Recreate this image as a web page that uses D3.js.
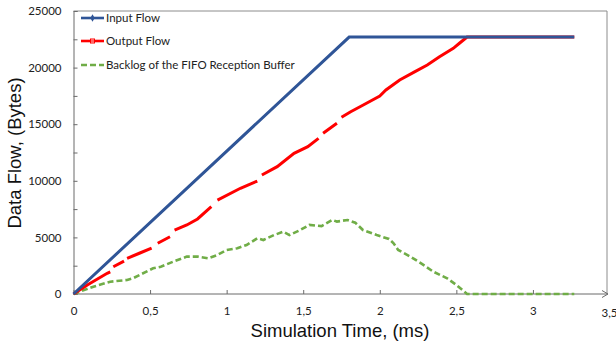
<!DOCTYPE html>
<html><head><meta charset="utf-8">
<script src="https://cdn.jsdelivr.net/npm/d3@7"></script>
<style>
html,body{margin:0;padding:0;background:#fff;}
svg{display:block;}
</style></head>
<body>
<svg id="chart" width="616" height="343"></svg>
<script>
// ---- data ----
const xTicks = [0, 0.5, 1, 1.5, 2, 2.5, 3, 3.5];
const xTickLabels = ["0", "0,5", "1", "1,5", "2", "2,5", "3", "3,5"];
const yTicks = [0, 5000, 10000, 15000, 20000, 25000];
const yMinorTicks = [2500, 7500, 12500, 17500, 22500];

const inputTime = [0, 1.8, 3.27];
const inputFlow = [0, 22700, 22700];

// null marks a break in the output-flow line
const outputTime = [0, 0.09, 0.22, 0.24, null, 0.26, 0.33, null, 0.35, 0.43, 0.51, null,
  0.55, 0.63, null, 0.66, 0.74, 0.81, 0.9, null, 0.94, 1.09, 1.2, null,
  1.23, 1.33, 1.44, 1.53, 1.6, null, 1.63, 1.72, null, 1.75, 1.81, 1.88, 2.0, 2.04,
  2.13, 2.23, 2.31, 2.39, 2.48, 2.52, 2.57, 3.27];
const outputFlow = [0, 800, 1830, 1950, null, 2410, 2900, null, 3150, 3600, 4060, null,
  4480, 5060, null, 5650, 6100, 6630, 7710, null, 8300, 9340, 9980, null,
  10510, 11250, 12430, 13010, 13750, null, 14200, 15080, null, 15610, 16100, 16610, 17490, 18020,
  18900, 19640, 20230, 20960, 21700, 22150, 22700, 22700];

const backlogTime = [0, 0.13, 0.24, 0.35, 0.39, 0.52, 0.57, 0.65, 0.74, 0.81, 0.88, 0.94, 1.0,
  1.07, 1.13, 1.2, 1.24, 1.31, 1.37, 1.41, 1.48, 1.54, 1.62, 1.69, 1.72, 1.79, 1.84, 1.89,
  1.98, 2.06, 2.09, 2.12, 2.2, 2.27, 2.35, 2.44, 2.5, 2.57, 3.27];
const backlogFlow = [0, 645, 1090, 1240, 1400, 2270, 2410, 2850, 3300, 3300, 3150, 3450, 3890,
  4040, 4330, 4920, 4770, 5210, 5500, 5210, 5650, 6100, 6000, 6540, 6400, 6540, 6300, 5650,
  5210, 4860, 4480, 3890, 3300, 2710, 1970, 1390, 800, 0, 0];

const seriesNames = ["Input Flow", "Output Flow", "Backlog of the FIFO Reception Buffer"];
const seriesColors = ["#2F5597", "#FF0000", "#70AD47"];

// ---- layout ----
const L = 73.5, R = 609.5, T = 11, B = 294, boxRight = 607;
const svg = d3.select("#chart");
const x = d3.scaleLinear().domain([0, 3.5]).range([L, R]);
const y = d3.scaleLinear().domain([0, 25000]).range([B, T]);

// plot box (top & right)
svg.append("path")
  .attr("d", `M${L},${T}H${boxRight}V${B}`)
  .attr("fill", "none").attr("stroke", "#8c8c8c").attr("stroke-width", 1);

// y axis
const yAxis = d3.axisLeft(y).tickValues(yTicks).tickSize(-4).tickPadding(12)
  .tickFormat(d3.format("d"));
const gy = svg.append("g").attr("transform", `translate(${L},0)`).call(yAxis);
gy.select(".domain").attr("stroke", "#6b6b6b");
gy.selectAll(".tick line").attr("stroke", "#6b6b6b");
gy.selectAll("text").attr("font-family", "Lato, sans-serif").attr("font-size", 11.5).attr("fill", "#222");
const gyMinor = svg.append("g").attr("transform", `translate(${L},0)`)
  .call(d3.axisLeft(y).tickValues(yMinorTicks).tickSize(-4).tickFormat(""));
gyMinor.select(".domain").remove();
gyMinor.selectAll(".tick line").attr("stroke", "#6b6b6b");

// x axis
const xAxis = d3.axisBottom(x).tickValues(xTicks.filter(d => d < 3.5)).tickSize(-4).tickPadding(13)
  .tickFormat((d, i) => xTickLabels[i]);
const gx = svg.append("g").attr("transform", `translate(0,${B})`).call(xAxis);
gx.select(".domain").remove();
gx.selectAll(".tick line").attr("stroke", "#6b6b6b");
gx.selectAll("text").attr("font-family", "Lato, sans-serif").attr("font-size", 11.5).attr("fill", "#222");
svg.append("text").attr("x", x(3.5)).attr("y", B + 23)
  .attr("text-anchor", "middle").attr("font-family", "Lato, sans-serif").attr("font-size", 11.5)
  .attr("fill", "#222").text(xTickLabels[7]);
svg.append("line").attr("x1", L).attr("x2", boxRight + 1).attr("y1", B).attr("y2", B)
  .attr("stroke", "#6b6b6b").attr("stroke-width", 1);
svg.append("path").attr("d", `M${boxRight - 5},${B - 3.5}L${boxRight + 1},${B}L${boxRight - 5},${B + 3.5}`)
  .attr("fill", "none").attr("stroke", "#6b6b6b").attr("stroke-width", 1);

// axis titles
svg.append("text").attr("x", 340).attr("y", 337).attr("text-anchor", "middle")
  .attr("font-family", "'Liberation Sans', Arial, sans-serif").attr("font-size", 18.5).attr("fill", "#111")
  .text("Simulation Time, (ms)");
svg.append("text").attr("transform", "translate(21,153) rotate(-90)").attr("text-anchor", "middle")
  .attr("font-family", "'Liberation Sans', Arial, sans-serif").attr("font-size", 18.5).attr("fill", "#111")
  .text("Data Flow, (Bytes)");

// ---- series ----
const line = d3.line().defined(d => d[0] !== null && d[1] !== null).x(d => x(d[0])).y(d => y(d[1]));
const backlogPts = d3.zip(backlogTime, backlogFlow);
const outputPts = d3.zip(outputTime, outputFlow);
const inputPts = d3.zip(inputTime, inputFlow);

svg.append("path").datum(backlogPts).attr("d", line).attr("fill", "none")
  .attr("stroke", seriesColors[2]).attr("stroke-width", 2.6).attr("stroke-dasharray", "6,3");

svg.append("path").datum(outputPts).attr("d", line).attr("fill", "none")
  .attr("stroke", seriesColors[1]).attr("stroke-width", 3);

svg.append("path").datum(inputPts).attr("d", line).attr("fill", "none")
  .attr("stroke", seriesColors[0]).attr("stroke-width", 3);

// ---- legend ----
const legY = [18, 41, 65];
const lg = svg.append("g");
seriesNames.forEach((name, i) => {
  const ln = lg.append("line").attr("x1", 81).attr("x2", 104).attr("y1", legY[i]).attr("y2", legY[i])
    .attr("stroke", seriesColors[i]).attr("stroke-width", 2.6);
  if (i === 2) ln.attr("stroke-dasharray", "6,3");
  if (i === 0) lg.append("path").attr("d", d3.symbol(d3.symbolDiamond, 16)())
    .attr("transform", `translate(92.5,${legY[i]})`).attr("fill", seriesColors[0]);
  if (i === 1) lg.append("rect").attr("x", 90.5).attr("y", legY[i] - 2).attr("width", 4).attr("height", 4)
    .attr("fill", "#fff").attr("fill-opacity", 0.4).attr("stroke", seriesColors[1]);
  lg.append("text").attr("x", 106).attr("y", legY[i]).attr("dy", "0.35em")
    .attr("font-family", "Lato, sans-serif").attr("font-size", 11.5).attr("fill", "#222").text(name);
});
</script>
</body></html>
